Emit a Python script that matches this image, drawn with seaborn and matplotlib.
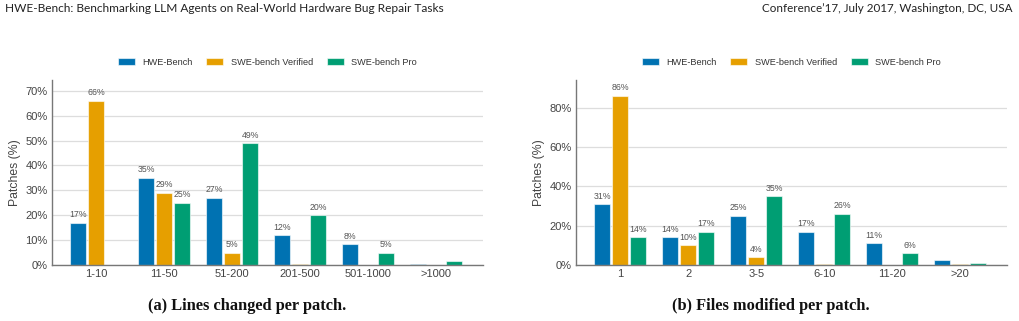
import numpy as np
import pandas as pd
import matplotlib
matplotlib.use("Agg")
import matplotlib.pyplot as plt
from matplotlib.ticker import PercentFormatter
import seaborn as sns

# data
series = ["HWE-Bench", "SWE-bench Verified", "SWE-bench Pro"]
colors = ["#0072B2", "#E69F00", "#009E73"]

line_bins = ["1-10", "11-50", "51-200", "201-500", "501-1000", ">1000"]
line_hwe = [17, 35, 27, 12, 8.4, 0.5]
line_verified = [66, 29, 5, 0.5, 0, 0]
line_pro = [0, 25, 49, 20, 5, 1.5]

file_bins = ["1", "2", "3-5", "6-10", "11-20", ">20"]
file_hwe = [31, 14, 25, 17, 11, 2.5]
file_verified = [86, 10, 4, 0.4, 0, 0.4]
file_pro = [14, 17, 35, 26, 6, 1.1]

label_min = 3

sns.set_theme(style="white")
plt.rcParams["font.family"] = ["Liberation Sans", "DejaVu Sans"]

fig = plt.figure(figsize=(10.2, 3.21), dpi=100)


def long_table(bins, *vals):
    rows = []
    for name, v in zip(series, vals):
        for b, x in zip(bins, v):
            rows.append({"bin": b, "series": name, "value": x})
    return pd.DataFrame(rows)


def panel(rect, bins, vals, ymax, yticks):
    ax = fig.add_axes(rect)
    df = long_table(bins, *vals)
    sns.barplot(data=df, x="bin", y="value", hue="series", palette=colors,
                saturation=1, width=0.8, gap=0.12, edgecolor=(1, 1, 1, 0.6),
                linewidth=0.8, ax=ax, legend=True)
    for cont, v in zip(ax.containers, vals):
        labels = [f"{x:.0f}%" if x >= label_min else "" for x in v]
        ax.bar_label(cont, labels=labels, padding=2.5, fontsize=6.3, color="#555555")
    ax.set_xlim(-0.65, len(bins) - 0.31)
    ax.set_ylim(0, ymax)
    ax.set_yticks(yticks)
    ax.yaxis.set_major_formatter(PercentFormatter(decimals=0))
    ax.grid(axis="y", color="#dddddd", linewidth=0.9)
    ax.set_axisbelow(True)
    for s in ["top", "right"]:
        ax.spines[s].set_visible(False)
    for s in ["left", "bottom"]:
        ax.spines[s].set_color("#777777")
        ax.spines[s].set_linewidth(1.0)
    ax.tick_params(axis="both", labelsize=8, labelcolor="#444444", length=0, pad=3)
    ax.set_xlabel("")
    ax.set_ylabel("Patches (%)", fontsize=8.8, color="#444444", labelpad=3)
    handles, labs = ax.get_legend_handles_labels()
    ax.legend(handles, labs, loc="center", bbox_to_anchor=(0.5, 1.097), ncol=3,
              frameon=False, fontsize=6.6, labelcolor="#333333",
              handlelength=1.85, handleheight=0.78, handletextpad=0.85,
              columnspacing=1.45)
    return ax


panel([52 / 1020, 56 / 321, 431 / 1020, 185 / 321], line_bins,
      [line_hwe, line_verified, line_pro], 74.3, range(0, 71, 10))
panel([576 / 1020, 56 / 321, 431 / 1020, 185 / 321], file_bins,
      [file_hwe, file_verified, file_pro], 94, range(0, 81, 20))

head_font = ["Lato", "DejaVu Sans"]
fig.text(5 / 1020, 1 - 9 / 321, "HWE-Bench: Benchmarking LLM Agents on Real-World Hardware Bug Repair Tasks",
         family=head_font, fontsize=8.6, ha="left", va="center", color="#222222")
fig.text(1013 / 1020, 1 - 9 / 321, "Conference\u201917, July 2017, Washington, DC, USA",
         family=head_font, fontsize=8.4, ha="right", va="center", color="#222222")

cap_font = ["Liberation Serif", "DejaVu Serif"]
fig.text(247 / 1020, 1 - 306 / 321, "(a) Lines changed per patch.", family=cap_font,
         fontsize=11.8, fontweight="bold", ha="center", va="center", color="#111111")
fig.text(771 / 1020, 1 - 306 / 321, "(b) Files modified per patch.", family=cap_font,
         fontsize=11.8, fontweight="bold", ha="center", va="center", color="#111111")

fig.savefig("out.png", dpi=100)
